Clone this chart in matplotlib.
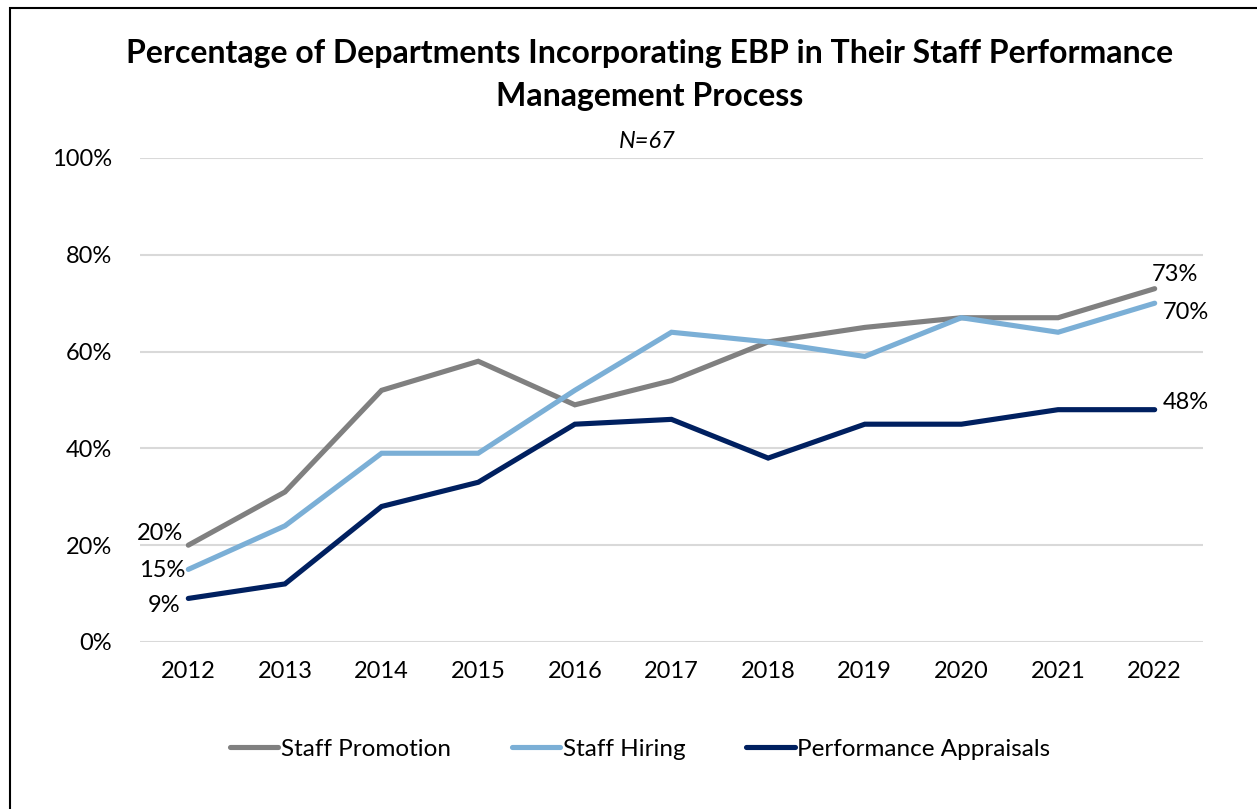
import matplotlib
matplotlib.use("Agg")
import matplotlib.pyplot as plt
from matplotlib.patches import Rectangle
from matplotlib.ticker import FuncFormatter

plt.rcParams['font.family'] = ['Lato', 'DejaVu Sans']

years = ["2012", "2013", "2014", "2015", "2016", "2017", "2018", "2019", "2020", "2021", "2022"]
staff_promotion = [20, 31, 52, 58, 49, 54, 62, 65, 67, 67, 73]
staff_hiring = [15, 24, 39, 39, 52, 64, 62, 59, 67, 64, 70]
performance_appraisals = [9, 12, 28, 33, 45, 46, 38, 45, 45, 48, 48]
series_names = ["Staff Promotion", "Staff Hiring", "Performance Appraisals"]
colors = ["#808080", "#7BAFD6", "#002060"]

W, H = 1257, 809
fig = plt.figure(figsize=(W / 100, H / 100), dpi=100)
ax = fig.add_axes([140 / W, 1 - 642 / H, (1203 - 140) / W, (642 - 158) / H])

x = list(range(len(years)))
lines = []
for vals, name, c in zip([staff_promotion, staff_hiring, performance_appraisals], series_names, colors):
    ln, = ax.plot(x, vals, color=c, lw=3.7, solid_capstyle='round', solid_joinstyle='miter', label=name, zorder=3)
    lines.append(ln)

ax.set_xlim(-0.5, len(years) - 0.5)
ax.set_ylim(0, 100)
ax.set_yticks([0, 20, 40, 60, 80, 100])
ax.yaxis.set_major_formatter(FuncFormatter(lambda v, p: f"{int(v)}%"))
ax.set_xticks(x)
ax.set_xticklabels(years)
ax.grid(axis='y', color='#D9D9D9', lw=1.5, zorder=0)
ax.set_axisbelow(True)
for s in ax.spines.values():
    s.set_visible(False)
ax.tick_params(axis='both', length=0, labelsize=17, colors='black')
ax.tick_params(axis='y', pad=20)
ax.tick_params(axis='x', pad=14)

# data labels
fs = 17
ax.annotate(f"{staff_promotion[0]}%", (x[0], staff_promotion[0]), xytext=(-4, 1), textcoords='offset points',
            ha='right', va='bottom', fontsize=fs)
ax.annotate(f"{staff_hiring[0]}%", (x[0], staff_hiring[0]), xytext=(-2, -1), textcoords='offset points',
            ha='right', va='center', fontsize=fs)
ax.annotate(f"{performance_appraisals[0]}%", (x[0], performance_appraisals[0]), xytext=(-6, -5), textcoords='offset points',
            ha='right', va='center', fontsize=fs)
ax.annotate(f"{staff_promotion[-1]}%", (x[-1], staff_promotion[-1]), xytext=(-2, 3), textcoords='offset points',
            ha='left', va='bottom', fontsize=fs)
ax.annotate(f"{staff_hiring[-1]}%", (x[-1], staff_hiring[-1]), xytext=(6, -7), textcoords='offset points',
            ha='left', va='center', fontsize=fs)
ax.annotate(f"{performance_appraisals[-1]}%", (x[-1], performance_appraisals[-1]), xytext=(6, 5), textcoords='offset points',
            ha='left', va='center', fontsize=fs)

fig.text(650 / W, 1 - 75 / H, "Percentage of Departments Incorporating EBP in Their Staff Performance\nManagement Process",
         ha='center', va='center', fontsize=23, fontweight='bold', linespacing=1.55)
fig.text(647 / W, 1 - 141 / H, "N=67", ha='center', va='center', fontsize=17, style='italic')

fig.legend(handles=lines, loc='center', bbox_to_anchor=(640 / W, 1 - 749 / H), ncol=3, frameon=False,
           fontsize=17.5, handlelength=2.0, handletextpad=0.1, columnspacing=2.5)

fig.patches.append(Rectangle((10 / W, -0.1), 1.2, (809 - 8) / H + 0.1, transform=fig.transFigure,
                             fill=False, edgecolor='black', lw=1.5))

fig.savefig("out.png", dpi=100)
